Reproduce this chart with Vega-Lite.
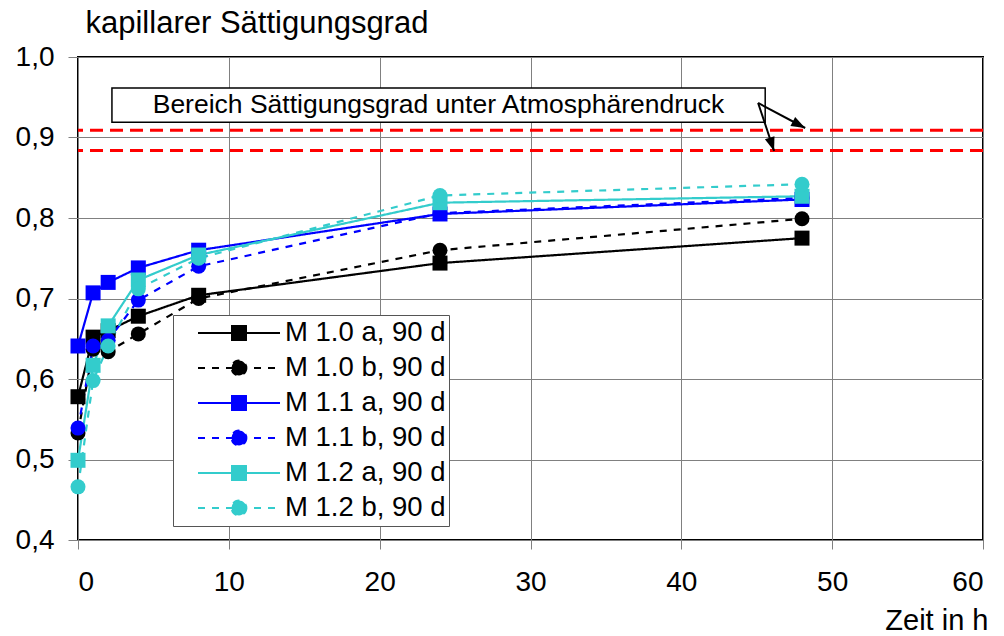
{
  "$schema": "https://vega.github.io/schema/vega-lite/v6.json",
  "width": 905,
  "height": 483,
  "autosize": {"type": "none"},
  "padding": {"left": 78, "top": 57, "right": 21, "bottom": 96},
  "background": "white",
  "config": {
    "font": "Liberation Sans",
    "view": {"stroke": "black", "strokeWidth": 2},
    "axis": {"labelFont": "Liberation Sans", "titleFont": "Liberation Sans", "labelColor": "black", "titleColor": "black", "titleFontWeight": "normal", "gridColor": "#808080", "gridWidth": 1, "gridOpacity": 1, "tickColor": "#808080", "domain": false}
  },
  "datasets": {
    "pts": [
      {"series": "M 1.0 a, 90 d", "t": 0, "s": 0.578},
      {"series": "M 1.0 a, 90 d", "t": 1, "s": 0.652},
      {"series": "M 1.0 a, 90 d", "t": 2, "s": 0.660},
      {"series": "M 1.0 a, 90 d", "t": 4, "s": 0.678},
      {"series": "M 1.0 a, 90 d", "t": 8, "s": 0.704},
      {"series": "M 1.0 a, 90 d", "t": 24, "s": 0.744},
      {"series": "M 1.0 a, 90 d", "t": 48, "s": 0.775},
      {"series": "M 1.0 b, 90 d", "t": 0, "s": 0.533},
      {"series": "M 1.0 b, 90 d", "t": 1, "s": 0.637},
      {"series": "M 1.0 b, 90 d", "t": 2, "s": 0.634},
      {"series": "M 1.0 b, 90 d", "t": 4, "s": 0.656},
      {"series": "M 1.0 b, 90 d", "t": 8, "s": 0.700},
      {"series": "M 1.0 b, 90 d", "t": 24, "s": 0.760},
      {"series": "M 1.0 b, 90 d", "t": 48, "s": 0.799},
      {"series": "M 1.1 a, 90 d", "t": 0, "s": 0.641},
      {"series": "M 1.1 a, 90 d", "t": 1, "s": 0.707},
      {"series": "M 1.1 a, 90 d", "t": 2, "s": 0.720},
      {"series": "M 1.1 a, 90 d", "t": 4, "s": 0.738},
      {"series": "M 1.1 a, 90 d", "t": 8, "s": 0.760},
      {"series": "M 1.1 a, 90 d", "t": 24, "s": 0.805},
      {"series": "M 1.1 a, 90 d", "t": 48, "s": 0.823},
      {"series": "M 1.1 b, 90 d", "t": 0, "s": 0.539},
      {"series": "M 1.1 b, 90 d", "t": 1, "s": 0.641},
      {"series": "M 1.1 b, 90 d", "t": 2, "s": 0.648},
      {"series": "M 1.1 b, 90 d", "t": 4, "s": 0.698},
      {"series": "M 1.1 b, 90 d", "t": 8, "s": 0.740},
      {"series": "M 1.1 b, 90 d", "t": 24, "s": 0.806},
      {"series": "M 1.1 b, 90 d", "t": 48, "s": 0.825},
      {"series": "M 1.2 a, 90 d", "t": 0, "s": 0.499},
      {"series": "M 1.2 a, 90 d", "t": 1, "s": 0.617},
      {"series": "M 1.2 a, 90 d", "t": 2, "s": 0.666},
      {"series": "M 1.2 a, 90 d", "t": 4, "s": 0.723},
      {"series": "M 1.2 a, 90 d", "t": 8, "s": 0.754},
      {"series": "M 1.2 a, 90 d", "t": 24, "s": 0.819},
      {"series": "M 1.2 a, 90 d", "t": 48, "s": 0.827},
      {"series": "M 1.2 b, 90 d", "t": 0, "s": 0.466},
      {"series": "M 1.2 b, 90 d", "t": 1, "s": 0.598},
      {"series": "M 1.2 b, 90 d", "t": 2, "s": 0.641},
      {"series": "M 1.2 b, 90 d", "t": 4, "s": 0.712},
      {"series": "M 1.2 b, 90 d", "t": 8, "s": 0.750},
      {"series": "M 1.2 b, 90 d", "t": 24, "s": 0.828},
      {"series": "M 1.2 b, 90 d", "t": 48, "s": 0.842}
    ],
    "refs": [{"s": 0.909}, {"s": 0.884}],
    "box": [{"t": 2.25, "t2": 45.56, "s": 0.9615, "s2": 0.919, "label": "Bereich Sättigungsgrad unter Atmosphärendruck", "tc": 23.9, "sc": 0.940}],
    "arrows": [
      {"t": 45.09, "s": 0.9429, "t2": 48.21, "s2": 0.9118, "ang": 118},
      {"t": 45.09, "s": 0.9429, "t2": 46.15, "s2": 0.8832, "ang": 161.6}
    ]
  },
  "encoding": {
    "x": {"field": "t", "type": "quantitative", "scale": {"domain": [0, 60], "nice": false},
      "axis": {"values": [0, 10, 20, 30, 40, 50, 60], "grid": true, "tickSize": 9, "labelFontSize": 28, "labelPadding": 19, "title": "Zeit in h", "titleFontSize": 29, "titleX": 910, "titleY": 89, "titleAlign": "right", "titleAnchor": null, "titleBaseline": "alphabetic"}},
    "y": {"field": "s", "type": "quantitative", "scale": {"domain": [0.4, 1.0], "nice": false, "zero": false},
      "axis": {"values": [0.4, 0.5, 0.6, 0.7, 0.8, 0.9, 1.0], "grid": true, "tickSize": 10, "labelFontSize": 28, "labelPadding": 14, "labelExpr": "replace(format(datum.value, '.1f'), '.', ',')", "title": "kapillarer Sättigungsgrad", "titleFontSize": 31, "titleAngle": 0, "titleX": 7, "titleY": -25, "titleAlign": "left", "titleAnchor": null, "titleBaseline": "alphabetic"}}
  },
  "layer": [
    {
      "data": {"name": "refs"},
      "mark": {"type": "rule", "color": "#FF0000", "strokeWidth": 3, "strokeDash": [13, 7]},
      "encoding": {"y": {"field": "s", "type": "quantitative"}, "x": null}
    },
    {
      "data": {"name": "pts"},
      "mark": {"type": "line", "strokeWidth": 2.2},
      "encoding": {
        "color": {"field": "series", "type": "nominal",
          "scale": {"domain": ["M 1.0 a, 90 d", "M 1.0 b, 90 d", "M 1.1 a, 90 d", "M 1.1 b, 90 d", "M 1.2 a, 90 d", "M 1.2 b, 90 d"], "range": ["#000000", "#000000", "#0000FF", "#0000FF", "#33CCCC", "#33CCCC"]},
          "legend": {"orient": "none", "legendX": 95, "legendY": 258, "title": null, "fillColor": "white", "strokeColor": "#555555", "padding": 3, "labelFont": "Liberation Sans", "labelFontSize": 27.5, "labelColor": "black", "labelLimit": 400, "labelOffset": 4, "symbolSize": 6724, "symbolStrokeWidth": 2, "symbolOffset": 21, "clipHeight": 30, "rowPadding": 5,
            "encode": {"symbols": {"update": {
              "shape": {"signal": "indexof(datum.value, ' a,') >= 0 ? 'M-1,0H1M-0.17,-0.17H0.17V0.17H-0.17Z' : 'M-1,0H1M0.18,0A0.18,0.18,0,1,1,-0.18,0A0.18,0.18,0,1,1,0.18,0Z'"},
              "fill": {"scale": "color", "field": "value"},
              "fillOpacity": {"value": 1},
              "strokeDash": {"scale": "strokeDash", "field": "value"}
            }}}}
        },
        "strokeDash": {"field": "series", "type": "nominal",
          "scale": {"domain": ["M 1.0 a, 90 d", "M 1.0 b, 90 d", "M 1.1 a, 90 d", "M 1.1 b, 90 d", "M 1.2 a, 90 d", "M 1.2 b, 90 d"], "range": [[1, 0], [7, 7], [1, 0], [7, 7], [1, 0], [7, 7]]},
          "legend": null}
      }
    },
    {
      "data": {"name": "pts"},
      "transform": [{"filter": {"field": "series", "equal": "M 1.0 a, 90 d"}}],
      "mark": {"type": "point", "filled": true, "size": 225, "opacity": 1, "shape": "square"},
      "encoding": {"color": {"field": "series", "type": "nominal", "legend": null}}
    },
    {
      "data": {"name": "pts"},
      "transform": [{"filter": {"field": "series", "equal": "M 1.0 b, 90 d"}}],
      "mark": {"type": "point", "filled": true, "size": 225, "opacity": 1, "shape": "circle"},
      "encoding": {"color": {"field": "series", "type": "nominal", "legend": null}}
    },
    {
      "data": {"name": "pts"},
      "transform": [{"filter": {"field": "series", "equal": "M 1.1 a, 90 d"}}],
      "mark": {"type": "point", "filled": true, "size": 225, "opacity": 1, "shape": "square"},
      "encoding": {"color": {"field": "series", "type": "nominal", "legend": null}}
    },
    {
      "data": {"name": "pts"},
      "transform": [{"filter": {"field": "series", "equal": "M 1.1 b, 90 d"}}],
      "mark": {"type": "point", "filled": true, "size": 225, "opacity": 1, "shape": "circle"},
      "encoding": {"color": {"field": "series", "type": "nominal", "legend": null}}
    },
    {
      "data": {"name": "pts"},
      "transform": [{"filter": {"field": "series", "equal": "M 1.2 a, 90 d"}}],
      "mark": {"type": "point", "filled": true, "size": 225, "opacity": 1, "shape": "square"},
      "encoding": {"color": {"field": "series", "type": "nominal", "legend": null}}
    },
    {
      "data": {"name": "pts"},
      "transform": [{"filter": {"field": "series", "equal": "M 1.2 b, 90 d"}}],
      "mark": {"type": "point", "filled": true, "size": 225, "opacity": 1, "shape": "circle"},
      "encoding": {"color": {"field": "series", "type": "nominal", "legend": null}}
    },
    {
      "data": {"name": "box"},
      "mark": {"type": "rect", "fill": "white", "stroke": "black", "strokeWidth": 1.5},
      "encoding": {"x": {"field": "t", "type": "quantitative"}, "x2": {"field": "t2"}, "y": {"field": "s", "type": "quantitative"}, "y2": {"field": "s2"}}
    },
    {
      "data": {"name": "box"},
      "mark": {"type": "text", "fontSize": 26.5, "font": "Liberation Sans", "align": "center", "baseline": "middle", "color": "black"},
      "encoding": {"x": {"field": "tc", "type": "quantitative"}, "y": {"field": "sc", "type": "quantitative"}, "text": {"field": "label"}}
    },
    {
      "data": {"name": "arrows"},
      "mark": {"type": "rule", "color": "black", "strokeWidth": 2},
      "encoding": {"x": {"field": "t", "type": "quantitative"}, "x2": {"field": "t2"}, "y": {"field": "s", "type": "quantitative"}, "y2": {"field": "s2"}}
    },
    {
      "data": {"name": "arrows"},
      "mark": {"type": "point", "filled": true, "color": "black", "opacity": 1, "size": 784, "shape": "M0,0L0.36,1L-0.36,1Z"},
      "encoding": {"x": {"field": "t2", "type": "quantitative"}, "y": {"field": "s2", "type": "quantitative"}, "angle": {"field": "ang", "type": "quantitative", "scale": null}}
    }
  ]
}
